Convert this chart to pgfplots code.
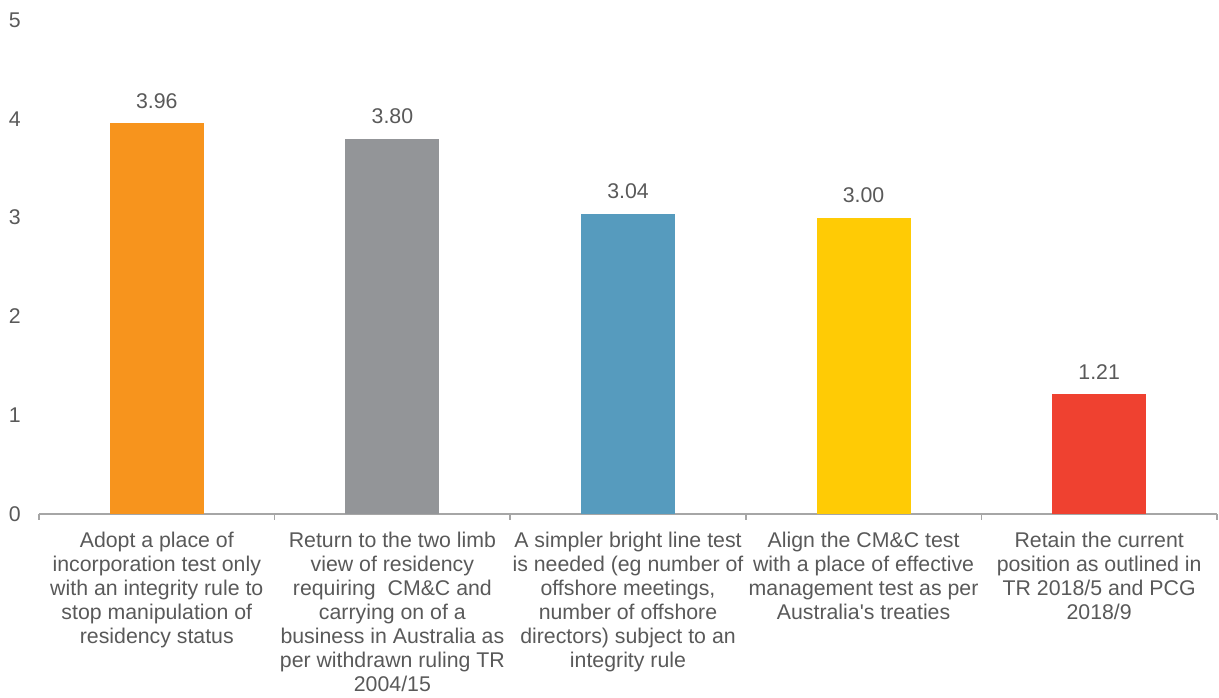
\documentclass[border=0pt]{standalone}
\usepackage{fontspec}
\setmainfont{Liberation Sans}[Ligatures=TeXOff]
\usepackage{pgfplots}
\pgfplotsset{compat=1.18}
\definecolor{txt}{HTML}{595959}
\definecolor{axgray}{HTML}{A6A6A6}
\definecolor{c1}{HTML}{F7941D}
\definecolor{c2}{HTML}{939598}
\definecolor{c3}{HTML}{569BBE}
\definecolor{c4}{HTML}{FFCB05}
\definecolor{c5}{HTML}{EF4130}
\begin{document}
\begin{tikzpicture}
\path[use as bounding box] (-39pt,-184pt) rectangle (1180pt,514pt);
\begin{axis}[
  scale only axis, width=1178pt, height=494pt,
  xmin=-0.5, xmax=4.5, ymin=0, ymax=5,
  axis x line*=bottom, axis y line*=left,
  x axis line style={draw=axgray, line width=2pt},
  y axis line style={draw=none},
  ytick={0,1,2,3,4,5},
  ytick style={draw=none},
  xtick={0,1,2,3,4},
  major x tick style={draw=none},
  minor xtick={-0.5,0.5,1.5,2.5,3.5,4.5},
  minor x tick style={draw=axgray, line width=1.5pt},
  minor tick length=6pt,
  major tick length=0pt,
  tick align=outside,
  /pgf/number format/assume math mode=true,
  tick label style={font=\fontsize{21.3}{24}\selectfont, text=txt},
  yticklabel style={anchor=east, inner sep=0pt, xshift=-18pt},
  xticklabel style={anchor=north, inner sep=0pt, yshift=-18pt, align=center},
  xticklabels={
    {Adopt a place of\\incorporation test only\\with an integrity rule to\\stop manipulation of\\residency status},
    {Return to the two limb\\view of residency\\requiring\ \ CM\&C and\\carrying on of a\\business in Australia as\\per withdrawn ruling TR\\2004/15},
    {A simpler bright line test\\is needed (eg number of\\offshore meetings,\\number of offshore\\directors) subject to an\\integrity rule},
    {Align the CM\&C test\\with a place of effective\\management test as per\\Australia's treaties},
    {Retain the current\\position as outlined in\\TR 2018/5 and PCG\\2018/9}
  },
  ybar, bar width=94pt, bar shift=0pt,
  nodes near coords,
  nodes near coords style={font=\fontsize{21.3}{24}\selectfont, text=txt, anchor=south, yshift=11pt,
    /pgf/number format/fixed, /pgf/number format/fixed zerofill, /pgf/number format/precision=2},
  clip=false,
]
\addplot[fill=c1, draw=none] coordinates {(0,3.96)};
\addplot[fill=c2, draw=none] coordinates {(1,3.80)};
\addplot[fill=c3, draw=none] coordinates {(2,3.04)};
\addplot[fill=c4, draw=none] coordinates {(3,3.00)};
\addplot[fill=c5, draw=none] coordinates {(4,1.21)};
\end{axis}
\end{tikzpicture}
\end{document}
